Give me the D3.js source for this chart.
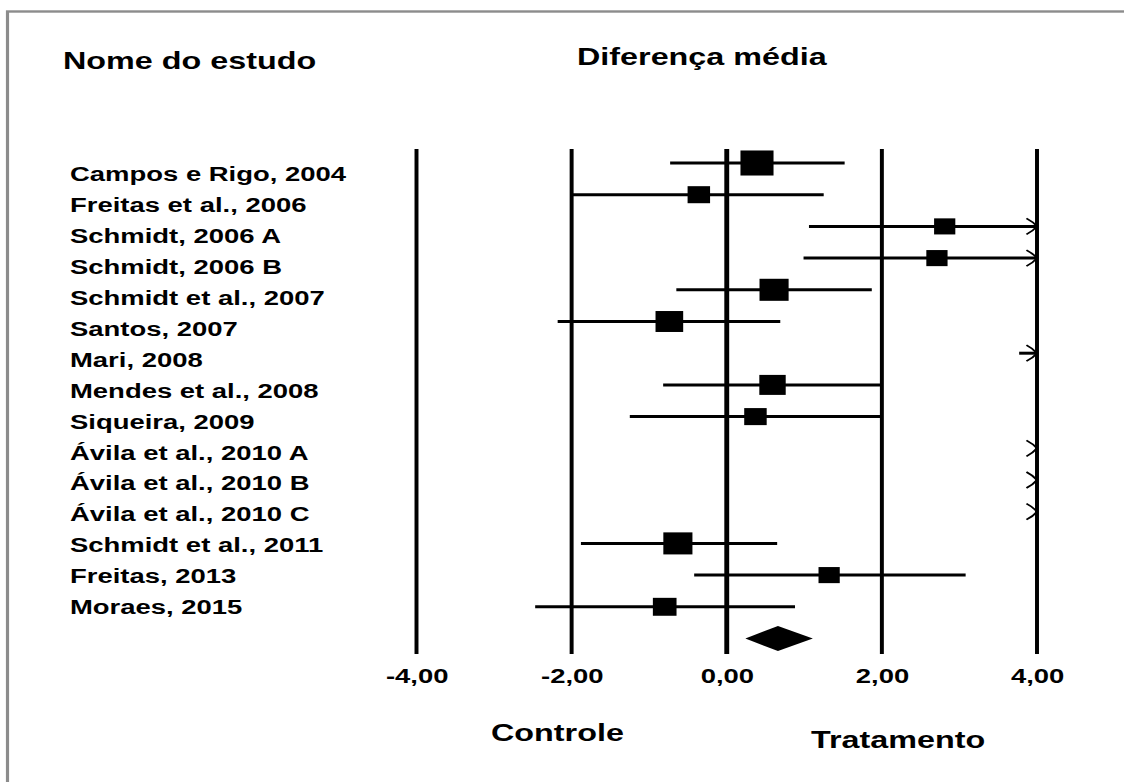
<!DOCTYPE html>
<html>
<head>
<meta charset="utf-8">
<script src="https://cdn.jsdelivr.net/npm/d3@7"></script>
<style>
  html, body { margin: 0; padding: 0; background: #fff; }
  svg { display: block; }
  text { font-family: "Liberation Sans", Arial, sans-serif; font-weight: bold; fill: #000; }
</style>
</head>
<body>
<svg id="forest"></svg>
<script>
// Study rows, top to bottom
const studies = [
  'Campos e Rigo, 2004',
  'Freitas et al., 2006',
  'Schmidt, 2006 A',
  'Schmidt, 2006 B',
  'Schmidt et al., 2007',
  'Santos, 2007',
  'Mari, 2008',
  'Mendes et al., 2008',
  'Siqueira, 2009',
  'Ávila et al., 2010 A',
  'Ávila et al., 2010 B',
  'Ávila et al., 2010 C',
  'Schmidt et al., 2011',
  'Freitas, 2013',
  'Moraes, 2015',
];

// Mean difference and 95% CI per study (values past 4 are off the plot)
const means  = [0.39, -0.36, 2.81, 2.71, 0.61, -0.74, 6.10, 0.59, 0.37, 6.50, 6.60, 6.40, -0.63, 1.32, -0.80];
const lowers = [-0.73, -2.00, 1.06, 0.99, -0.65, -2.18, 3.77, -0.82, -1.25, 4.60, 4.70, 4.50, -1.88, -0.42, -2.47];
const uppers = [1.52, 1.25, 5.20, 5.10, 1.87, 0.69, 8.40, 2.00, 2.00, 8.40, 8.50, 8.30, 0.65, 3.08, 0.88];
const weights = [8.0, 3.7, 3.3, 3.3, 6.2, 5.6, 4.5, 5.1, 3.7, 4.8, 4.8, 4.8, 6.2, 3.3, 4.1];

// Pooled estimate
const pooled = { mean: 0.66, lower: 0.24, upper: 1.11 };

const tickValues = [-4, -2, 0, 2, 4];

// The source picture is stretched sideways; draw in unstretched units
const SX = 1.32;
const width = 1124;
const height = 782;
const vw = width / SX;
const ix = v => v / SX;

const svg = d3.select('#forest')
  .attr('width', width)
  .attr('height', height)
  .attr('viewBox', `0 0 ${vw} ${height}`)
  .attr('preserveAspectRatio', 'none');

// Frame (only top and left edges are in view)
svg.append('rect')
  .attr('x', ix(7.5))
  .attr('y', 11.5)
  .attr('width', vw + 20)
  .attr('height', height + 20)
  .attr('fill', 'none')
  .attr('stroke', '#8c8c8c')
  .attr('stroke-width', 2.4);

const x = d3.scaleLinear()
  .domain([-4, 4])
  .range([ix(416.5), ix(1037)]);

// rows for the marks; last slot is the pooled diamond
const y = d3.scalePoint()
  .domain(d3.range(studies.length + 1))
  .range([163, 638.5]);

// labels sit on a slightly tighter grid
const yLabel = d3.scalePoint()
  .domain(d3.range(studies.length))
  .range([174, 606.6]);

const size = d3.scaleSqrt()
  .domain([0, 10])
  .range([0, 28]);

const ptBR = d3.formatLocale({
  decimal: ',', thousands: '.', grouping: [3], currency: ['R$', ''], minus: '-',
});

// Headers
svg.append('text')
  .attr('x', ix(63))
  .attr('y', 69)
  .style('font-size', '24.5px')
  .text('Nome do estudo');

svg.append('text')
  .attr('x', ix(577))
  .attr('y', 65)
  .style('font-size', '24.5px')
  .text('Diferença média');

// Vertical reference lines
svg.append('g')
  .selectAll('line')
  .data(tickValues)
  .enter().append('line')
    .attr('x1', d => x(d))
    .attr('x2', d => x(d))
    .attr('y1', 149)
    .attr('y2', 654)
    .attr('stroke', '#000')
    .attr('stroke-width', d => (d === 0 ? 3.7 : 3));

// X axis labels
const axis = d3.axisBottom(x)
  .tickValues(tickValues)
  .tickSize(0)
  .tickFormat(ptBR.format('.2f'));

const axisG = svg.append('g')
  .attr('transform', 'translate(0, 683)')
  .call(axis);
axisG.select('.domain').remove();
axisG.selectAll('text')
  .attr('y', 0)
  .attr('dy', 0)
  .attr('fill', '#000')
  .style('font-size', '20.8px')
  .style('font-family', '"Liberation Sans", Arial, sans-serif')
  .style('font-weight', 'bold');

// Study labels
svg.append('g')
  .selectAll('text')
  .data(studies)
  .enter().append('text')
    .attr('x', ix(70))
    .attr('y', (d, i) => yLabel(i))
    .attr('dy', '0.36em')
    .style('font-size', '20.8px')
    .text(d => d);

const rows = studies.map((name, i) => ({
  i, name, mean: means[i], lo: lowers[i], hi: uppers[i], w: weights[i],
}));

const [xMin, xMax] = x.domain();

// Confidence intervals
const marks = svg.append('g');

marks.selectAll('.ci')
  .data(rows.filter(d => d.lo < xMax))
  .enter().append('line')
    .attr('class', 'ci')
    .attr('x1', d => x(Math.max(d.lo, xMin)))
    .attr('x2', d => x(Math.min(d.hi, xMax)))
    .attr('y1', d => y(d.i))
    .attr('y2', d => y(d.i))
    .attr('stroke', '#000')
    .attr('stroke-width', 3);

// Arrowheads where the interval runs past the right edge
const ah = 8;
marks.selectAll('.arrow')
  .data(rows.filter(d => d.hi > xMax))
  .enter().append('path')
    .attr('class', 'arrow')
    .attr('d', d => {
      const x0 = x(xMax);
      const y0 = y(d.i);
      return `M${x0 - ah},${y0 - ah} Q${x0 - ah * 0.35},${y0 - ah * 0.55} ${x0},${y0}`
        + ` Q${x0 - ah * 0.35},${y0 + ah * 0.55} ${x0 - ah},${y0 + ah}`;
    })
    .attr('fill', 'none')
    .attr('stroke', '#000')
    .attr('stroke-width', 1.6);

// Point estimates
marks.selectAll('.est')
  .data(rows.filter(d => d.mean >= xMin && d.mean <= xMax))
  .enter().append('rect')
    .attr('class', 'est')
    .attr('x', d => x(d.mean) - size(d.w) / 2)
    .attr('y', d => y(d.i) - size(d.w) / 2)
    .attr('width', d => size(d.w))
    .attr('height', d => size(d.w))
    .attr('fill', '#000');

// Pooled diamond
const yd = y(studies.length);
const dh = 12.5;
svg.append('path')
  .datum(pooled)
  .attr('d', d => `M${x(d.lower)},${yd} L${x(d.mean)},${yd - dh} L${x(d.upper)},${yd} L${x(d.mean)},${yd + dh} Z`)
  .attr('fill', '#000');

// Direction labels
svg.append('text')
  .attr('x', ix(491))
  .attr('y', 741)
  .style('font-size', '24.5px')
  .text('Controle');

svg.append('text')
  .attr('x', ix(811))
  .attr('y', 748)
  .style('font-size', '24.5px')
  .text('Tratamento');
</script>
</body>
</html>
